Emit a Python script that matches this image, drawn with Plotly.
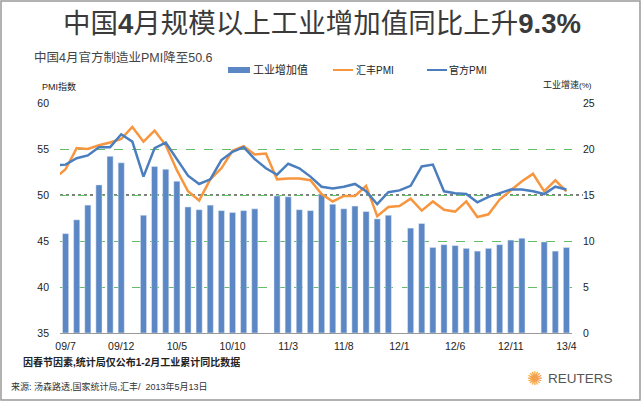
import pandas as pd
import plotly.graph_objects as go

# months shown on the axis (the lines also carry 09/6, clipped at the left edge)
months = [f"{p.year % 100:02d}/{p.month}" for p in pd.period_range("2009-06", "2013-04", freq="M")]
tick_labels = ["09/7", "09/12", "10/5", "10/10", "11/3", "11/8", "12/1", "12/6", "12/11", "13/4"]

# 汇丰PMI, 09/6 .. 13/4
hsbc_pmi = [51.8, 52.8, 55.1, 55.0, 55.4, 55.7, 56.1,
            57.4, 55.8, 57.0, 55.4, 52.7, 50.4, 49.4, 51.7, 52.9, 54.8, 55.3, 54.4,
            54.5, 51.7, 51.8, 51.8, 51.6, 50.1, 49.3, 49.9, 49.9, 51.0, 47.7, 48.7,
            48.8, 49.6, 48.3, 49.3, 48.4, 48.2, 49.3, 47.6, 47.9, 49.5, 50.5, 51.5,
            52.3, 50.4, 51.6, 50.4]

# 官方PMI, 09/6 .. 13/4
official_pmi = [53.2, 53.3, 54.0, 54.3, 55.2, 55.2, 56.6,
                55.8, 52.0, 55.1, 55.7, 53.9, 52.1, 51.2, 51.7, 53.8, 54.7, 55.2, 53.9,
                52.9, 52.2, 53.4, 52.9, 52.0, 50.9, 50.7, 50.9, 51.2, 50.4, 49.0, 50.3,
                50.5, 51.0, 53.1, 53.3, 50.4, 50.2, 50.1, 49.2, 49.8, 50.2, 50.6, 50.6,
                50.4, 50.1, 50.9, 50.6]

# 工业增加值同比(%), 09/7 .. 13/4, no January figure
industry = [10.8, 12.3, 13.9, 16.1, 19.2, 18.5,
            None, 12.8, 18.1, 17.8, 16.5, 13.7, 13.4, 13.9, 13.3, 13.1, 13.3, 13.5,
            None, 14.9, 14.8, 13.4, 13.3, 15.1, 14.0, 13.5, 13.8, 13.2, 12.4, 12.8,
            None, 11.4, 11.9, 9.3, 9.6, 9.5, 9.2, 8.9, 9.2, 9.6, 10.1, 10.3,
            None, 9.9, 8.9, 9.3]

BAR = "#5B87C4"
ORANGE = "#F7963F"
BLUE = "#4A7EBE"
FONT = "Liberation Sans, Noto Sans CJK SC"

W, H = 641, 401
L, R, T, B = 60, 69, 103, 68
PW, PH = W - L - R, H - T - B


def px(x):
    return (x - L) / PW


def py(y):
    return (H - B - y) / PH


fig = go.Figure()
fig.add_trace(go.Bar(x=months[1:], y=industry, marker_color=BAR, width=0.55,
                     name="工业增加值", yaxis="y"))
fig.add_trace(go.Scatter(x=months, y=hsbc_pmi, mode="lines", name="汇丰PMI",
                         line=dict(color=ORANGE, width=2.5), yaxis="y2"))
fig.add_trace(go.Scatter(x=months, y=official_pmi, mode="lines", name="官方PMI",
                         line=dict(color=BLUE, width=2.5), yaxis="y2"))

fig.update_layout(
    width=W, height=H,
    margin=dict(l=L, r=R, t=T, b=B),
    paper_bgcolor="white", plot_bgcolor="white",
    showlegend=False,
    font=dict(family=FONT, color="#333"),
    xaxis=dict(type="category", categoryorder="array", categoryarray=months,
               range=[0.5, len(months) - 0.5], tickvals=tick_labels,
               showgrid=False, showline=True, linecolor="#999", linewidth=1,
               ticks="", tickfont=dict(size=10.5, color="#222"), ticklabelstandoff=3),
    yaxis=dict(side="right", range=[0, 25], dtick=5, showgrid=True,
               gridcolor="#66BB66", griddash="dash", gridwidth=1, zeroline=False,
               ticks="", tickfont=dict(size=10.5, color="#222"), ticklabelstandoff=10),
    yaxis2=dict(side="left", overlaying="y", range=[35, 60], dtick=5, showgrid=False,
                zeroline=False, ticks="", tickfont=dict(size=10.5, color="#222"),
                ticklabelstandoff=10),
)

# 50 line
fig.add_shape(type="line", xref="paper", yref="y2", x0=0, x1=px(583), y0=50, y1=50,
              line=dict(color="black", width=1.2, dash="dot"), layer="below")

# legend drawn by hand
fig.add_shape(type="rect", xref="paper", yref="paper", x0=px(228), x1=px(250),
              y0=py(73), y1=py(67), fillcolor=BAR, line=dict(width=0))
fig.add_shape(type="line", xref="paper", yref="paper", x0=px(333), x1=px(353),
              y0=py(70), y1=py(70), line=dict(color=ORANGE, width=2))
fig.add_shape(type="line", xref="paper", yref="paper", x0=px(427), x1=px(447),
              y0=py(70), y1=py(70), line=dict(color=BLUE, width=2))

# frame
fig.add_shape(type="rect", xref="paper", yref="paper", x0=px(1), x1=px(640),
              y0=py(400), y1=py(1), line=dict(color="#999", width=1.5))


def note(text, x, y, size, xanchor="left", color="#333"):
    fig.add_annotation(text=text, x=px(x), y=py(y), xref="paper", yref="paper",
                       xanchor=xanchor, yanchor="middle", showarrow=False,
                       font=dict(size=size, color=color, family=FONT))


note("中国<b>4</b>月规模以上工业增加值同比上升<b>9.3%</b>", 322, 23, 27.5, "center", "#3a3a3a")
note("中国4月官方制造业PMI降至50.6", 32, 57, 12.5, color="#444")
note("工业增加值", 251, 70, 11, color="#222")
note("汇丰PMI", 354, 70, 10, color="#222")
note("官方PMI", 447, 70, 10, color="#222")
note("PMI指数", 40, 86, 9, color="#222")
note("工业增速<span style='font-size:8px'>(%)</span>", 594, 84, 9, "right", "#222")
note("<b>因春节因素,统计局仅公布1-2月工业累计同比数据</b>", 21, 362, 10, color="#222")
note("来源: 汤森路透,国家统计局,汇丰/  2013年5月13日", 9, 386, 9, color="#333")
note("✺", 535, 378, 19, "center", "#F5A04A")
note("REUTERS", 546, 378, 13.5, color="#555")

# the page's default body margin would push the fixed-size figure off by 8px
fig.write_html("out.html", config={"displayModeBar": False},
               post_script="document.body.style.margin='0';")
